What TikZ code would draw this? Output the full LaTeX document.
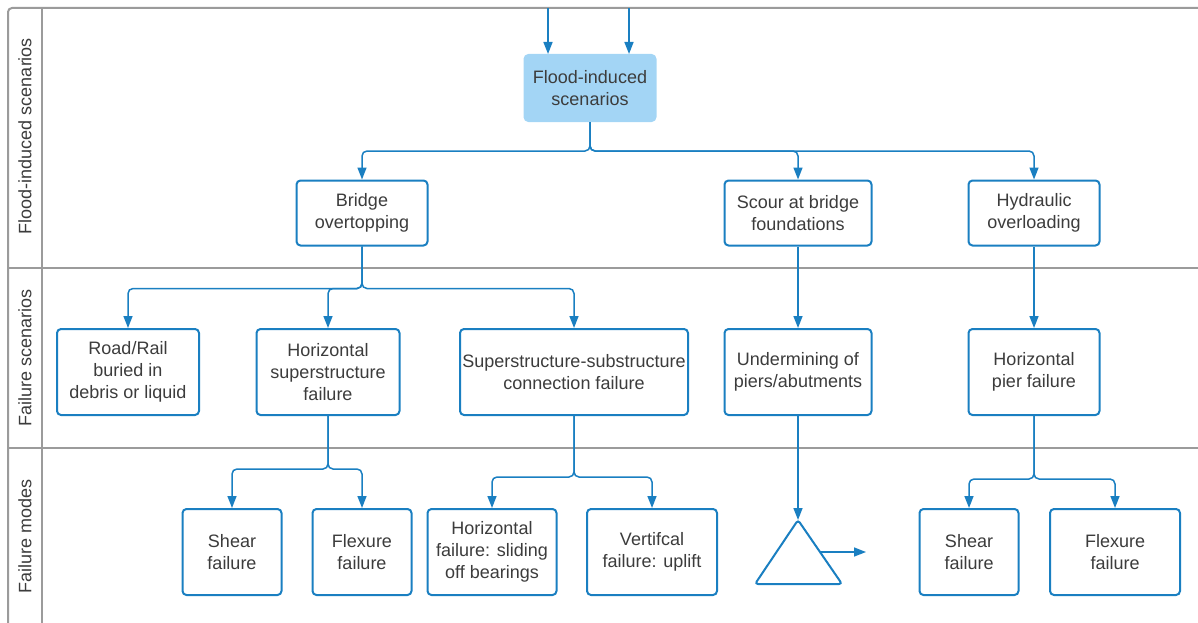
\documentclass[tikz,border=0pt]{standalone}
\usepackage{fontspec}
\setmainfont{Liberation Sans}
\usetikzlibrary{arrows.meta}
\usetikzlibrary{calc}

\definecolor{lineblue}{HTML}{1A7FC1}
\definecolor{boxfill}{HTML}{A3D5F5}
\definecolor{lanegray}{HTML}{9B9B9B}
\definecolor{textgray}{HTML}{3C3C3C}

\tikzset{
    box/.style={draw=lineblue, line width=2pt, rounded corners=4pt, fill=white, align=center,
        text=textgray, font=\fontsize{18}{22}\selectfont, inner sep=1pt},
    link/.style={draw=lineblue, line width=1.5pt, rounded corners=5pt, -{Triangle[length=12pt,width=9pt]}},
    lane/.style={draw=lanegray, line width=2pt},
    lanetitle/.style={rotate=90, text=textgray, font=\fontsize{18}{20}\selectfont}
}

\begin{document}
\begin{tikzpicture}[x=1pt,y=-1pt]
        \useasboundingbox (0,0) rectangle (1198,623);
        % swimlanes
        \draw [lane, rounded corners=4pt] (8,623) -- (8,8) -- (1198,8);
        \draw [lane] (42,8) -- (42,623);
        \draw [lane] (8,268) -- (1198,268);
        \draw [lane] (8,448) -- (1198,448);
        \node [lanetitle] (lane1) at (25,136) {Flood-induced scenarios};
        \node [lanetitle] (lane2) at (25,358) {Failure scenarios};
        \node [lanetitle] (lane3) at (25,536) {Failure modes};
        % top level
        \node [box, fill=boxfill, draw=boxfill, minimum width=131pt, minimum height=66pt] (flood) at (590,88) {Flood-induced\\scenarios};
        \coordinate (in1) at (548,8);
        \coordinate (in2) at (629,8);
        \draw [link] (in1) -- (flood.north -| in1);
        \draw [link] (in2) -- (flood.north -| in2);
        % flood-induced scenarios
        \node [box, minimum width=131pt, minimum height=65pt] (overtop) at (362,213) {Bridge\\overtopping};
        \node [box, minimum width=147pt, minimum height=65pt] (scour) at (798,213) {Scour at bridge\\foundations};
        \node [box, minimum width=131pt, minimum height=65pt] (hydro) at (1034,213) {Hydraulic\\overloading};
        \draw [link] (flood.south) -- ++(0,29) -| (overtop.north);
        \draw [link] (flood.south) -- ++(0,29) -| (scour.north);
        \draw [link] (flood.south) -- ++(0,29) -| (hydro.north);
        % failure scenarios
        \node [box, minimum width=142pt, minimum height=86pt] (buried) at (128,372) {Road/Rail\\buried in\\debris or liquid};
        \node [box, minimum width=143pt, minimum height=86pt] (hsuper) at (328,372) {Horizontal\\superstructure\\failure};
        \node [box, minimum width=228pt, minimum height=86pt] (connect) at (574,372) {Superstructure-substructure\\connection failure};
        \node [box, minimum width=147pt, minimum height=86pt] (undermine) at (798,372) {Undermining of\\piers/abutments};
        \node [box, minimum width=131pt, minimum height=86pt] (hpier) at (1034,372) {Horizontal\\pier failure};
        \draw [link] (overtop.south) -- ++(0,42) -| (buried.north);
        \draw [link] (overtop.south) -- ++(0,42) -| (hsuper.north);
        \draw [link] (overtop.south) -- ++(0,42) -| (connect.north);
        \draw [link] (scour) -- (undermine);
        \draw [link] (hydro) -- (hpier);
        % failure modes
        \node [box, minimum width=99pt, minimum height=86pt] (shear1) at (232,552) {Shear\\failure};
        \node [box, minimum width=99pt, minimum height=86pt] (flex1) at (362,552) {Flexure\\failure};
        \node [box, minimum width=129pt, minimum height=86pt] (slide) at (492,552) {Horizontal\\failure: sliding\\off bearings};
        \node [box, minimum width=130pt, minimum height=86pt] (uplift) at (652,552) {Vertifcal\\failure: uplift};
        \node [box, minimum width=99pt, minimum height=86pt] (shear2) at (969,552) {Shear\\failure};
        \node [box, minimum width=130pt, minimum height=86pt] (flex2) at (1115,552) {Flexure\\failure};
        \draw [link] (hsuper.south) -- ++(0,53) -| (shear1.north);
        \draw [link] (hsuper.south) -- ++(0,53) -| (flex1.north);
        \draw [link] (connect.south) -- ++(0,61) -| (slide.north);
        \draw [link] (connect.south) -- ++(0,61) -| (uplift.north);
        \draw [link] (hpier.south) -- ++(0,63) -| (shear2.north);
        \draw [link] (hpier.south) -- ++(0,63) -| (flex2.north);
        % off-page connector
        \coordinate (apex) at (798,520);
        \coordinate (baseL) at (755,584);
        \coordinate (baseR) at (842,584);
        \draw [draw=lineblue, line width=2pt, rounded corners=3pt, fill=white] (apex) -- (baseR) -- (baseL) -- cycle;
        \draw [link] (undermine.south) -- (apex);
        \coordinate (side) at ($(apex)!0.5!(baseR)$);
        \coordinate (out) at (866,552);
        \draw [link] (side) -- (out);
    \end{tikzpicture}
\end{document}
